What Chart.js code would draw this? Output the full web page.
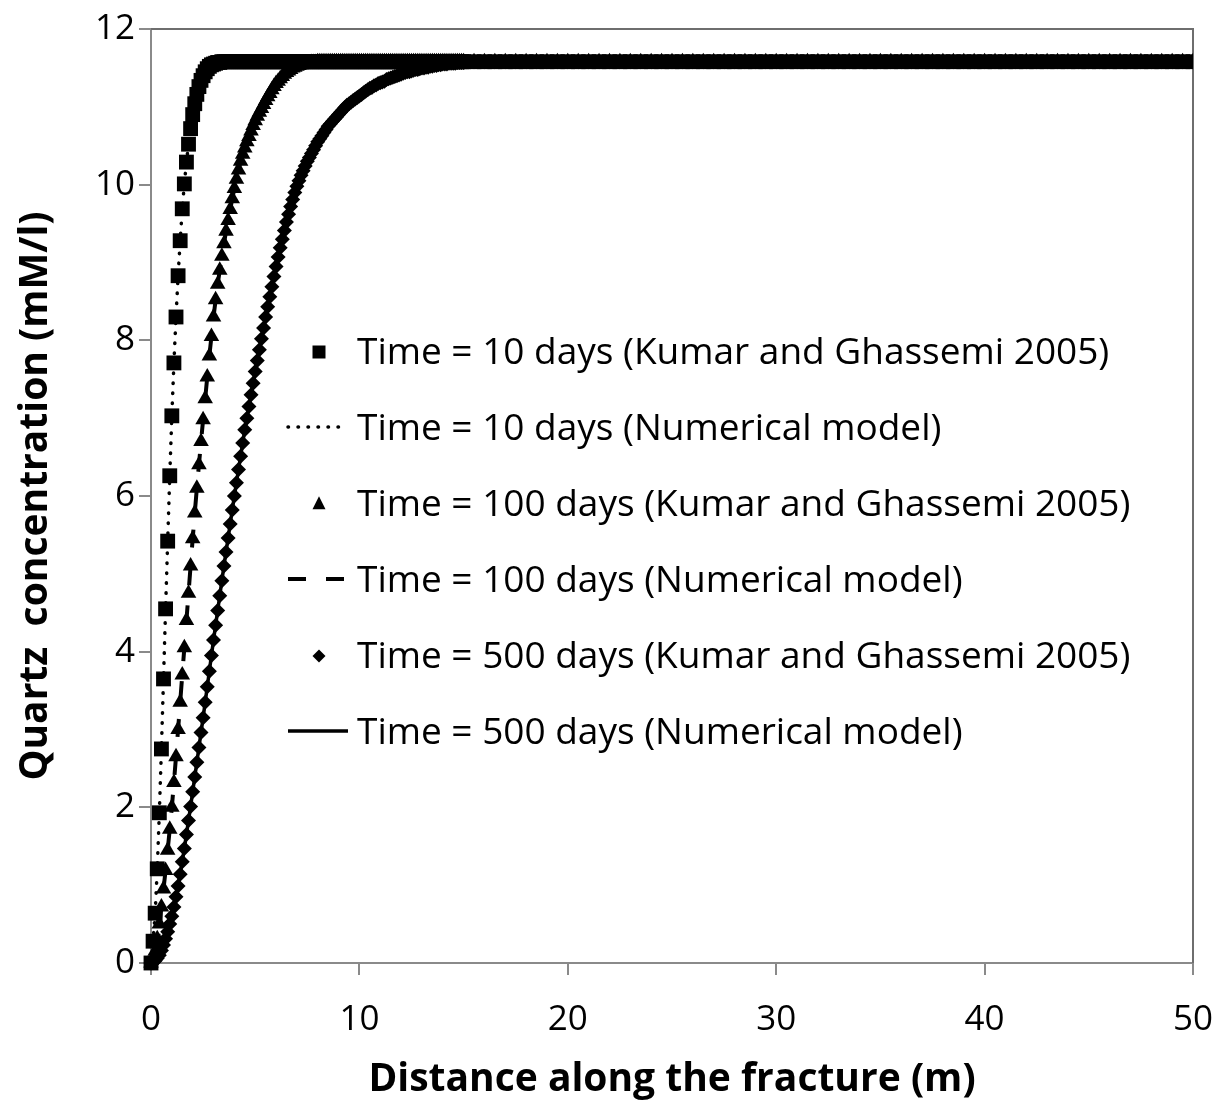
<!DOCTYPE html>
<html>
<head>
<meta charset="utf-8">
<script src="https://cdn.jsdelivr.net/npm/chart.js@4/dist/chart.umd.min.js"></script>
<style>
  html, body { margin: 0; padding: 0; background: #ffffff; }
  #wrap { width: 1225px; height: 1108px; }
</style>
</head>
<body>
<div id="wrap"><canvas id="c" width="1225" height="1108"></canvas></div>
<script>
// ---------------- DATA ----------------
const xAxisTitle = "Distance along the fracture (m)";
const yAxisTitle = "Quartz  concentration (mM/l)";
const xTicks = [0, 10, 20, 30, 40, 50];
const yTicks = [0, 2, 4, 6, 8, 10, 12];

const seriesLabels = [
  "Time = 10 days (Kumar and Ghassemi 2005)",
  "Time = 10 days (Numerical model)",
  "Time = 100 days (Kumar and Ghassemi 2005)",
  "Time = 100 days (Numerical model)",
  "Time = 500 days (Kumar and Ghassemi 2005)",
  "Time = 500 days (Numerical model)"
];

// distance along the fracture (m)
const distance = [
  0,0.1,0.2,0.3,0.4,0.5,0.6,0.7,0.8,0.9,
  1,1.1,1.2,1.3,1.4,1.5,1.6,1.7,1.8,1.9,
  2,2.1,2.2,2.3,2.4,2.5,2.6,2.7,2.8,2.9,
  3,3.1,3.2,3.3,3.4,3.5,3.6,3.7,3.8,3.9,
  4,4.1,4.2,4.3,4.4,4.5,4.6,4.7,4.8,4.9,
  5,5.1,5.2,5.3,5.4,5.5,5.6,5.7,5.8,5.9,
  6,6.1,6.2,6.3,6.4,6.5,6.6,6.7,6.8,6.9,
  7,7.1,7.2,7.3,7.4,7.5,7.6,7.7,7.8,7.9,
  8,8.1,8.2,8.3,8.4,8.5,8.6,8.7,8.8,8.9,
  9,9.1,9.2,9.3,9.4,9.5,9.6,9.7,9.8,9.9,
  10,10.1,10.2,10.3,10.4,10.5,10.6,10.7,10.8,10.9,
  11,11.1,11.2,11.3,11.4,11.5,11.6,11.7,11.8,11.9,
  12,12.1,12.2,12.3,12.4,12.5,12.6,12.7,12.8,12.9,
  13,13.1,13.2,13.3,13.4,13.5,13.6,13.7,13.8,13.9,
  14,14.1,14.2,14.3,14.4,14.5,14.6,14.7,14.8,14.9,
  15,
  15.5,16,16.5,17,17.5,18,18.5,19,19.5,20,
  20.5,21,21.5,22,22.5,23,23.5,24,24.5,25,
  25.5,26,26.5,27,27.5,28,28.5,29,29.5,30,
  30.5,31,31.5,32,32.5,33,33.5,34,34.5,35,
  35.5,36,36.5,37,37.5,38,38.5,39,39.5,40,
  40.5,41,41.5,42,42.5,43,43.5,44,44.5,45,
  45.5,46,46.5,47,47.5,48,48.5,49,49.5,50
];

// quartz concentration (mM/l), time = 10 days
const conc10days = [
  0,0.28,0.64,1.21,1.93,2.75,3.65,4.55,5.42,6.26,
  7.03,7.71,8.30,8.83,9.28,9.69,10.01,10.29,10.52,10.72,
  10.90,11.04,11.16,11.26,11.34,11.40,11.45,11.49,11.52,11.54,
  11.55,11.56,11.57,11.57,11.58,11.58,11.58,11.58,11.58,11.58,
  11.58,11.58,11.58,11.58,11.58,11.58,11.58,11.58,11.58,11.58,
  11.58,11.58,11.58,11.58,11.58,11.58,11.58,11.58,11.58,11.58,
  11.58,11.58,11.58,11.58,11.58,11.58,11.58,11.58,11.58,11.58,
  11.58,11.58,11.58,11.58,11.58,11.58,11.58,11.58,11.58,11.58,
  11.58,11.58,11.58,11.58,11.58,11.58,11.58,11.58,11.58,11.58,
  11.58,11.58,11.58,11.58,11.58,11.58,11.58,11.58,11.58,11.58,
  11.58,11.58,11.58,11.58,11.58,11.58,11.58,11.58,11.58,11.58,
  11.58,11.58,11.58,11.58,11.58,11.58,11.58,11.58,11.58,11.58,
  11.58,11.58,11.58,11.58,11.58,11.58,11.58,11.58,11.58,11.58,
  11.58,11.58,11.58,11.58,11.58,11.58,11.58,11.58,11.58,11.58,
  11.58,11.58,11.58,11.58,11.58,11.58,11.58,11.58,11.58,11.58,
  11.58,
  11.58,11.58,11.58,11.58,11.58,11.58,11.58,11.58,11.58,11.58,
  11.58,11.58,11.58,11.58,11.58,11.58,11.58,11.58,11.58,11.58,
  11.58,11.58,11.58,11.58,11.58,11.58,11.58,11.58,11.58,11.58,
  11.58,11.58,11.58,11.58,11.58,11.58,11.58,11.58,11.58,11.58,
  11.58,11.58,11.58,11.58,11.58,11.58,11.58,11.58,11.58,11.58,
  11.58,11.58,11.58,11.58,11.58,11.58,11.58,11.58,11.58,11.58,
  11.58,11.58,11.58,11.58,11.58,11.58,11.58,11.58,11.58,11.58
];

// quartz concentration (mM/l), time = 100 days
const conc100days = [
  0,0.06,0.15,0.31,0.50,0.72,0.95,1.19,1.45,1.72,
  2.00,2.32,2.65,3.00,3.35,3.70,4.05,4.40,4.75,5.10,
  5.45,5.78,6.10,6.40,6.70,6.98,7.25,7.53,7.80,8.05,
  8.30,8.52,8.72,8.90,9.08,9.24,9.40,9.54,9.68,9.82,
  9.95,10.07,10.19,10.30,10.39,10.47,10.55,10.62,10.69,10.76,
  10.82,10.88,10.93,10.98,11.03,11.08,11.13,11.17,11.22,11.26,
  11.30,11.33,11.36,11.39,11.42,11.44,11.46,11.48,11.50,11.51,
  11.52,11.53,11.54,11.55,11.55,11.56,11.56,11.57,11.57,11.57,
  11.58,11.58,11.58,11.58,11.58,11.58,11.58,11.58,11.58,11.58,
  11.58,11.58,11.58,11.58,11.58,11.58,11.58,11.58,11.58,11.58,
  11.58,11.58,11.58,11.58,11.58,11.58,11.58,11.58,11.58,11.58,
  11.58,11.58,11.58,11.58,11.58,11.58,11.58,11.58,11.58,11.58,
  11.58,11.58,11.58,11.58,11.58,11.58,11.58,11.58,11.58,11.58,
  11.58,11.58,11.58,11.58,11.58,11.58,11.58,11.58,11.58,11.58,
  11.58,11.58,11.58,11.58,11.58,11.58,11.58,11.58,11.58,11.58,
  11.58,
  11.58,11.58,11.58,11.58,11.58,11.58,11.58,11.58,11.58,11.58,
  11.58,11.58,11.58,11.58,11.58,11.58,11.58,11.58,11.58,11.58,
  11.58,11.58,11.58,11.58,11.58,11.58,11.58,11.58,11.58,11.58,
  11.58,11.58,11.58,11.58,11.58,11.58,11.58,11.58,11.58,11.58,
  11.58,11.58,11.58,11.58,11.58,11.58,11.58,11.58,11.58,11.58,
  11.58,11.58,11.58,11.58,11.58,11.58,11.58,11.58,11.58,11.58,
  11.58,11.58,11.58,11.58,11.58,11.58,11.58,11.58,11.58,11.58
];

// quartz concentration (mM/l), time = 500 days
const conc500days = [
  0,0.01,0.03,0.06,0.10,0.16,0.23,0.31,0.40,0.50,
  0.60,0.72,0.85,0.99,1.14,1.30,1.47,1.65,1.83,2.01,
  2.20,2.39,2.58,2.77,2.96,3.15,3.35,3.55,3.75,3.95,
  4.15,4.34,4.53,4.72,4.91,5.10,5.28,5.46,5.64,5.82,
  6.00,6.17,6.34,6.51,6.68,6.85,7.00,7.15,7.30,7.45,
  7.60,7.74,7.88,8.02,8.16,8.30,8.43,8.56,8.69,8.82,
  8.95,9.07,9.19,9.30,9.41,9.52,9.62,9.72,9.81,9.90,
  9.98,10.05,10.12,10.18,10.24,10.30,10.35,10.40,10.45,10.50,
  10.55,10.59,10.63,10.67,10.71,10.75,10.78,10.81,10.84,10.87,
  10.90,10.93,10.96,10.99,11.02,11.04,11.06,11.08,11.10,11.12,
  11.14,11.16,11.18,11.20,11.22,11.24,11.25,11.27,11.28,11.30,
  11.31,11.32,11.33,11.35,11.36,11.37,11.38,11.39,11.40,11.41,
  11.42,11.43,11.44,11.45,11.45,11.46,11.47,11.48,11.48,11.49,
  11.50,11.50,11.51,11.51,11.52,11.52,11.53,11.53,11.54,11.54,
  11.55,11.55,11.55,11.56,11.56,11.56,11.56,11.57,11.57,11.57,
  11.57,
  11.58,11.58,11.58,11.58,11.58,11.58,11.58,11.58,11.58,11.58,
  11.58,11.58,11.58,11.58,11.58,11.58,11.58,11.58,11.58,11.58,
  11.58,11.58,11.58,11.58,11.58,11.58,11.58,11.58,11.58,11.58,
  11.58,11.58,11.58,11.58,11.58,11.58,11.58,11.58,11.58,11.58,
  11.58,11.58,11.58,11.58,11.58,11.58,11.58,11.58,11.58,11.58,
  11.58,11.58,11.58,11.58,11.58,11.58,11.58,11.58,11.58,11.58,
  11.58,11.58,11.58,11.58,11.58,11.58,11.58,11.58,11.58,11.58
];

// The numerical model curves lie on top of the analytical (Kumar and Ghassemi 2005) points.
const numerical10days = conc10days;
const numerical100days = conc100days;
const numerical500days = conc500days;

// ---------------- CHART ----------------
const FONT = "'Open Sans'";
const AXIS_GRAY = "#8a8a8a";
const toPoints = (ys) => distance.map((x, i) => ({ x: x, y: ys[i] }));
const clipBox = { left: 15, top: 15, right: 0, bottom: 15 };

const datasets = [
  { label: seriesLabels[0], data: toPoints(conc10days), showLine: false,
    pointStyle: 'rect', pointRadius: 10.5, backgroundColor: '#000', borderColor: '#000', pointBorderWidth: 0, clip: clipBox },
  { label: seriesLabels[1], data: toPoints(numerical10days), showLine: true, pointRadius: 0,
    borderColor: '#000', borderWidth: 3.5, borderDash: [0.5, 9.5], borderCapStyle: 'round', clip: clipBox },
  { label: seriesLabels[2], data: toPoints(conc100days), showLine: false,
    pointStyle: 'triangle', pointRadius: 9, backgroundColor: '#000', borderColor: '#000', pointBorderWidth: 0, clip: clipBox },
  { label: seriesLabels[3], data: toPoints(numerical100days), showLine: true, pointRadius: 0,
    borderColor: '#000', borderWidth: 4, borderDash: [18, 20], clip: clipBox },
  { label: seriesLabels[4], data: toPoints(conc500days), showLine: false,
    pointStyle: 'rectRot', pointRadius: 7.5, backgroundColor: '#000', borderColor: '#000', pointBorderWidth: 0, clip: clipBox },
  { label: seriesLabels[5], data: toPoints(numerical500days), showLine: true, pointRadius: 0,
    borderColor: '#000', borderWidth: 3.5, clip: clipBox }
];

function drawMarker(ctx, style, x, y, size) {
  ctx.beginPath();
  if (style === 'rect') {
    ctx.rect(x - size / 2, y - size / 2, size, size);
  } else if (style === 'triangle') {
    ctx.moveTo(x, y - size * 0.6);
    ctx.lineTo(x + size / 2, y + size * 0.4);
    ctx.lineTo(x - size / 2, y + size * 0.4);
    ctx.closePath();
  } else {
    ctx.moveTo(x, y - size / 2);
    ctx.lineTo(x + size / 2, y);
    ctx.lineTo(x, y + size / 2);
    ctx.lineTo(x - size / 2, y);
    ctx.closePath();
  }
  ctx.fill();
}

const frameAndLegend = {
  id: 'frameAndLegend',
  beforeDatasetsDraw(chart) {
    const { ctx, chartArea: a } = chart;
    ctx.save();
    ctx.strokeStyle = '#6e6e6e';
    ctx.lineWidth = 2;
    ctx.beginPath();
    ctx.moveTo(a.left, a.top);
    ctx.lineTo(a.right, a.top);
    ctx.lineTo(a.right, a.bottom);
    ctx.stroke();
    ctx.restore();
  },
  afterDatasetsDraw(chart) {
    const ctx = chart.ctx;
    const rowTop = 351, rowStep = 76, sampleL = 288, sampleR = 348, textX = 357;
    chart.data.datasets.forEach((ds, i) => {
      const cy = rowTop + i * rowStep;
      ctx.save();
      ctx.fillStyle = '#000';
      ctx.strokeStyle = '#000';
      if (ds.showLine) {
        ctx.lineWidth = ds.borderWidth;
        ctx.setLineDash(ds.borderDash || []);
        ctx.lineCap = ds.borderCapStyle || 'butt';
        ctx.beginPath();
        ctx.moveTo(sampleL, cy);
        ctx.lineTo(sampleR, cy);
        ctx.stroke();
      } else {
        drawMarker(ctx, ds.pointStyle, 319, cy + 1, 13);
      }
      ctx.setLineDash([]);
      ctx.font = '37px ' + FONT;
      ctx.textBaseline = 'alphabetic';
      ctx.textAlign = 'left';
      ctx.fillText(ds.label, textX, cy + 13);
      ctx.restore();
    });
  }
};

new Chart(document.getElementById('c'), {
  type: 'scatter',
  data: { datasets: datasets },
  plugins: [frameAndLegend],
  options: {
    responsive: false,
    animation: false,
    events: [],
    layout: { padding: { left: 0, right: 32, top: 29, bottom: 0 } },
    plugins: { legend: { display: false }, tooltip: { enabled: false } },
    scales: {
      x: {
        type: 'linear', min: xTicks[0], max: xTicks[xTicks.length - 1],
        afterBuildTicks(s) { s.ticks = xTicks.map(v => ({ value: v })); },
        afterFit(s) { s.height = 145; s.paddingLeft = 0; s.paddingRight = 0; },
        ticks: { font: { family: FONT, size: 35 }, color: '#000', padding: 24, maxRotation: 0 },
        grid: { drawOnChartArea: false, drawTicks: true, tickLength: 12, color: AXIS_GRAY, lineWidth: 2 },
        border: { display: true, color: AXIS_GRAY, width: 2 },
        title: { display: true, text: xAxisTitle, color: '#000',
                 font: { family: FONT, size: 39, weight: 'bold' }, padding: { top: 0, bottom: 5 } }
      },
      y: {
        type: 'linear', min: yTicks[0], max: yTicks[yTicks.length - 1],
        afterBuildTicks(s) { s.ticks = yTicks.map(v => ({ value: v })); },
        afterFit(s) { s.width = 151; s.paddingTop = 0; s.paddingBottom = 0; },
        ticks: { font: { family: FONT, size: 35 }, color: '#000', padding: 4 },
        grid: { drawOnChartArea: false, drawTicks: true, tickLength: 12, color: AXIS_GRAY, lineWidth: 2 },
        border: { display: true, color: AXIS_GRAY, width: 2 },
        title: { display: true, text: yAxisTitle, color: '#000',
                 font: { family: FONT, size: 39, weight: 'bold' }, padding: { top: 12, bottom: 0 } }
      }
    }
  }
});
</script>
</body>
</html>
